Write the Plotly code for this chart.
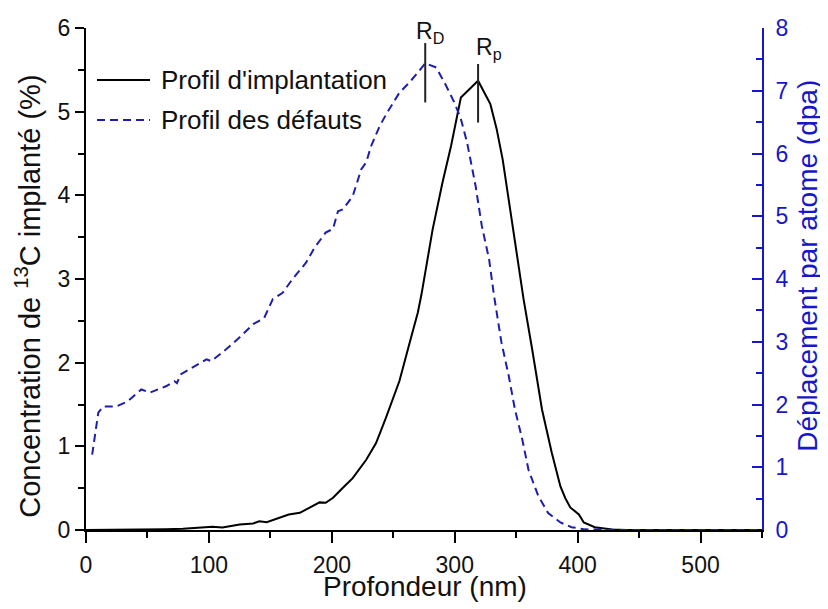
import plotly.graph_objects as go
import numpy as np

# ---- data ----
implant_depth = [0, 20, 40, 52, 65, 79, 90, 103, 111, 118, 125, 136, 141, 147, 157, 165,
                 174, 182, 190, 195, 201, 209, 217, 228, 236, 244, 250, 255, 263, 270, 273,
                 277, 282, 290, 297, 305, 319, 329, 334, 339, 347, 356, 363, 371, 379, 386,
                 390, 394, 401, 405, 414, 420, 428, 440, 460, 500, 550]
implant_conc = [0, 0.001, 0.004, 0.006, 0.01, 0.014, 0.022, 0.04, 0.03, 0.045, 0.066, 0.078,
                0.105, 0.093, 0.146, 0.185, 0.205, 0.265, 0.33, 0.325, 0.385, 0.505, 0.62,
                0.84, 1.04, 1.34, 1.58, 1.78, 2.22, 2.60, 2.82, 3.16, 3.59, 4.15, 4.59, 5.17,
                5.37, 5.09, 4.80, 4.43, 3.63, 2.76, 2.16, 1.44, 0.92, 0.52, 0.38, 0.27, 0.185,
                0.09, 0.034, 0.018, 0.006, 0.001, 0, 0, 0]

defect_depth = [5, 10, 14, 25, 34, 45, 52, 65, 72, 74, 77, 84, 88, 98, 102, 114, 125, 136,
                145, 152, 160, 168, 179, 186, 195, 201, 205, 209, 217, 224, 228, 232, 239, 245,
                255, 263, 270, 276, 285, 293, 300, 305, 310, 317, 322, 328, 332, 338, 344, 349,
                355, 360, 368, 376, 386, 395, 406, 420, 440, 500, 550]
defect_dpa = [1.2, 1.87, 1.97, 1.97, 2.05, 2.24, 2.19, 2.29, 2.37, 2.34, 2.48, 2.56, 2.61,
              2.72, 2.69, 2.88, 3.07, 3.28, 3.38, 3.68, 3.78, 4.0, 4.26, 4.50, 4.74, 4.80, 5.08,
              5.11, 5.32, 5.75, 5.86, 6.12, 6.44, 6.65, 6.97, 7.13, 7.29, 7.44, 7.37, 7.08,
              6.80, 6.55, 6.18, 5.48, 4.85, 4.31, 3.73, 2.99, 2.45, 1.92, 1.44, 0.96, 0.54,
              0.27, 0.12, 0.045, 0.01, 0.002, 0, 0, 0]

x_ticks = [0, 100, 200, 300, 400, 500]
y_left_ticks = [0, 1, 2, 3, 4, 5, 6]
y_right_ticks = [0, 1, 2, 3, 4, 5, 6, 7, 8]

names = ["Profil d'implantation", "Profil des défauts"]
x_title = "Profondeur (nm)"
y_title = "Concentration de <sup>13</sup>C implanté (%)"
y2_title = "Déplacement par atome (dpa)"

BLUE_AX = "#1717C8"
BLUE_LN = "#1E1EAA"
FONT = "Liberation Sans, Arial, sans-serif"
DASH = "8px,5px"

# the page body has an 8px margin: size the figure so it fits the 828x609 window
OFF = 8
W, H = 828 - OFF, 609 - OFF
ML, MT = 86 - OFF, 28 - OFF
MR = W - (762 - OFF)
MB = H - (530.5 - OFF)
PW, PH = W - ML - MR, H - MT - MB


def px(xp):  # window pixel -> paper x
    return (xp - OFF - ML) / PW


def py(yp):  # window pixel -> paper y
    return (H - MB - (yp - OFF)) / PH


fig = go.Figure()
fig.add_trace(go.Scatter(x=implant_depth, y=implant_conc, mode="lines", name=names[0],
                         line=dict(color="black", width=2), yaxis="y", showlegend=False))
fig.add_trace(go.Scatter(x=defect_depth, y=defect_dpa, mode="lines", name=names[1],
                         line=dict(color=BLUE_LN, width=2, dash=DASH), yaxis="y2",
                         showlegend=False))

# peak markers derived from the data
rd_i = int(np.argmax(defect_dpa))
rp_i = int(np.argmax(implant_conc))
rd_x = defect_depth[rd_i]
rd_peak_left = defect_dpa[rd_i] * 6 / 8
rp_x = implant_depth[rp_i]
rp_peak = implant_conc[rp_i]

fig.add_shape(type="line", xref="x", yref="y", x0=rd_x, x1=rd_x,
              y0=rd_peak_left - 0.47, y1=rd_peak_left + 0.24,
              line=dict(color="#222222", width=2))
fig.add_shape(type="line", xref="x", yref="y", x0=rp_x, x1=rp_x,
              y0=rp_peak - 0.5, y1=rp_peak + 0.2,
              line=dict(color="#222222", width=2))
fig.add_annotation(x=rd_x + 4, y=rd_peak_left + 0.37, xref="x", yref="y",
                   text="R<sub>D</sub>", showarrow=False,
                   font=dict(size=23, color="#111111", family=FONT),
                   xanchor="center", yanchor="middle")
fig.add_annotation(x=rp_x + 9, y=rp_peak + 0.39, xref="x", yref="y",
                   text="R<sub>p</sub>", showarrow=False,
                   font=dict(size=23, color="#111111", family=FONT),
                   xanchor="center", yanchor="middle")

# legend drawn by hand (longer samples, like the reference)
leg_rows = [(80, "black", "solid"), (120, BLUE_LN, DASH)]
for (yr, col, dsh), nm in zip(leg_rows, names):
    fig.add_shape(type="line", xref="paper", yref="paper", x0=px(97), x1=px(150),
                  y0=py(yr), y1=py(yr), line=dict(color=col, width=2, dash=dsh))
    fig.add_annotation(x=px(159), y=py(yr), xref="paper", yref="paper", text=nm,
                       showarrow=False, xanchor="left", yanchor="middle",
                       font=dict(size=26, color="#111111", family=FONT))

# axis titles
fig.add_annotation(x=px(425), y=py(587), xref="paper", yref="paper", text=x_title,
                   showarrow=False, xanchor="center", yanchor="middle",
                   font=dict(size=28, color="#111111", family=FONT))
fig.add_annotation(x=px(28), y=py(297), xref="paper", yref="paper", text=y_title,
                   showarrow=False, xanchor="center", yanchor="middle", textangle=-90,
                   font=dict(size=29, color="#111111", family=FONT))
fig.add_annotation(x=px(808), y=py(266), xref="paper", yref="paper", text=y2_title,
                   showarrow=False, xanchor="center", yanchor="middle", textangle=-90,
                   font=dict(size=28, color=BLUE_AX, family=FONT))

fig.update_layout(
    width=W, height=H,
    margin=dict(l=ML, r=MR, t=MT, b=MB, autoexpand=False),
    paper_bgcolor="white", plot_bgcolor="white",
    font=dict(family=FONT, color="black"),
    showlegend=False,
    xaxis=dict(range=[0, 550], tickvals=x_ticks, ticks="outside", ticklen=11,
               tickwidth=2, tickcolor="black", showline=True, linewidth=2,
               linecolor="black", showgrid=False, zeroline=False, automargin=False,
               ticklabelstandoff=2,
               tickfont=dict(size=23, family=FONT, color="#111111"),
               minor=dict(dtick=50, ticklen=6, tickwidth=2, tickcolor="black",
                          ticks="outside", showgrid=False)),
    yaxis=dict(range=[0, 6], tickvals=y_left_ticks, ticks="outside", ticklen=9,
               tickwidth=2, tickcolor="black", showline=True, linewidth=2,
               linecolor="black", showgrid=False, zeroline=False, automargin=False,
               tickfont=dict(size=23, family=FONT, color="#111111"),
               minor=dict(dtick=0.5, ticklen=6, tickwidth=2, tickcolor="black",
                          ticks="outside", showgrid=False)),
    yaxis2=dict(range=[0, 8], tickvals=y_right_ticks, overlaying="y", side="right",
                anchor="x", ticks="inside", ticklen=10, tickwidth=2,
                tickcolor=BLUE_AX, showline=True, linewidth=2, linecolor=BLUE_AX,
                showgrid=False, zeroline=False, ticklabelstandoff=7, automargin=False,
                tickfont=dict(size=23, color=BLUE_AX, family=FONT),
                minor=dict(dtick=0.5, ticklen=6, tickwidth=2, tickcolor=BLUE_AX,
                           ticks="inside", showgrid=False)),
)

fig.write_html("out.html")
